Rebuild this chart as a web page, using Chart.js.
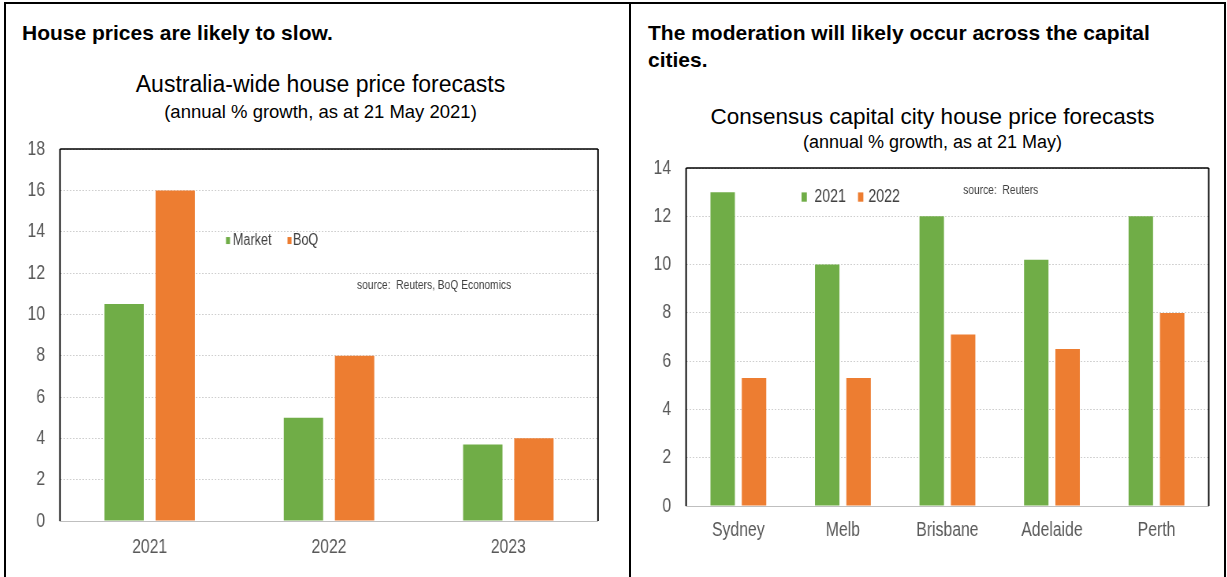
<!DOCTYPE html>
<html>
<head>
<meta charset="utf-8">
<script src="https://cdn.jsdelivr.net/npm/chart.js@4.4.0/dist/chart.umd.min.js"></script>
<style>
  body { margin: 0; width: 1227px; height: 577px; background: #fff; overflow: hidden; position: relative; font-family: "Liberation Sans", Arial, sans-serif; }
  .frame { position: absolute; left: 4px; top: 2px; width: 1218px; height: 600px; border: 2px solid #000; border-bottom: none; }
  .divider { position: absolute; left: 629px; top: 2px; width: 2px; height: 600px; background: #000; }
  .head { position: absolute; font-weight: bold; font-size: 21px; line-height: 27px; color: #000; }
  .ttl { position: absolute; text-align: center; color: #000; white-space: nowrap; }
  /* the source chart uses a condensed face: draw wide, squeeze horizontally */
  .box { position: absolute; transform-origin: 0 0; }
</style>
</head>
<body>
<div class="frame"></div>
<div class="divider"></div>
<div class="head" style="left:22px; top:19px;">House prices are likely to slow.</div>
<div class="head" style="left:648px; top:19px;">The moderation will likely occur across the capital<br>cities.</div>

<div class="ttl" style="left:0; width:641px; top:73px; font-size:23px; line-height:23px;">Australia-wide house price forecasts</div>
<div class="ttl" style="left:0; width:641px; top:103px; font-size:18.5px; line-height:18.5px;">(annual % growth, as at 21 May 2021)</div>
<div class="ttl" style="left:632px; width:601px; top:106px; font-size:22.5px; line-height:22.5px;">Consensus capital city house price forecasts</div>
<div class="ttl" style="left:632px; width:601px; top:133px; font-size:18px; line-height:18px;">(annual % growth, as at 21 May)</div>

<div class="box" id="ausBox"><canvas id="ausChart"></canvas></div>
<div class="box" id="cityBox"><canvas id="cityChart"></canvas></div>
<script>
// --- data ---
const ausYears = ['2021', '2022', '2023'];
const marketForecast = [10.5, 5.0, 3.7];
const boqForecast = [16.0, 8.0, 4.0];

const cities = ['Sydney', 'Melb', 'Brisbane', 'Adelaide', 'Perth'];
const city2021 = [13.0, 10.0, 12.0, 10.2, 12.0];
const city2022 = [5.3, 5.3, 7.1, 6.5, 8.0];

const GREEN = '#70ad47';
const ORANGE = '#ed7d31';
const FONT = '"Liberation Sans", Arial, sans-serif';
const TICK_COLOR = '#595959';
const SQUEEZE = 1.27;

// Excel-ish black frame on left/top/right + in-plot legend and source note
const plotDecor = {
    id: 'plotDecor',
    afterDraw(chart, args, opts) {
        const { ctx, chartArea: a } = chart;
        const k = SQUEEZE;
        ctx.save();
        ctx.strokeStyle = '#000';
        ctx.lineWidth = 1.5;
        ctx.beginPath();
        ctx.moveTo(a.left, a.top);
        ctx.lineTo(a.right, a.top);
        ctx.stroke();
        ctx.lineWidth = 1.5 * k;
        ctx.beginPath();
        ctx.moveTo(a.left, a.bottom);
        ctx.lineTo(a.left, a.top);
        ctx.moveTo(a.right, a.top);
        ctx.lineTo(a.right, a.bottom);
        ctx.stroke();

        ctx.textBaseline = 'middle';
        ctx.textAlign = 'left';
        (opts.keys || []).forEach(m => {
            ctx.fillStyle = m.color;
            ctx.fillRect(a.left + m.x * k, a.top + m.y - m.h / 2, m.w * k, m.h);
            ctx.fillStyle = '#404040';
            ctx.font = m.size + 'px ' + FONT;
            ctx.fillText(m.text, a.left + m.tx * k, a.top + m.y);
        });
        (opts.notes || []).forEach(n => {
            ctx.fillStyle = '#404040';
            ctx.font = n.size + 'px ' + FONT;
            ctx.fillText(n.text, a.left + n.x * k, a.top + n.y);
        });
        ctx.restore();
    }
};

function barChart(id, labels, sets, cfg) {
    const k = SQUEEZE;
    const box = document.getElementById(cfg.box);
    box.style.left = cfg.left + 'px';
    box.style.top = cfg.top + 'px';
    box.style.width = (cfg.width * k) + 'px';
    box.style.height = cfg.height + 'px';
    box.style.transform = 'scaleX(' + (1 / k) + ')';

    const ctx = document.getElementById(id).getContext('2d');
    return new Chart(ctx, {
        type: 'bar',
        data: {
            labels: labels,
            datasets: sets.map(s => ({
                label: s.label,
                data: s.data,
                backgroundColor: s.color,
                borderWidth: 0,
                categoryPercentage: cfg.catPct,
                barPercentage: cfg.barPct
            }))
        },
        options: {
            responsive: true,
            maintainAspectRatio: false,
            animation: false,
            devicePixelRatio: 1,
            layout: { padding: { left: 0, right: cfg.padRight * k, bottom: 0, top: 0 } },
            plugins: {
                legend: { display: false },
                tooltip: { enabled: false },
                plotDecor: { keys: cfg.keys, notes: cfg.notes }
            },
            scales: {
                x: {
                    grid: { display: false, drawTicks: false },
                    border: { display: true, color: '#bfbfbf', width: 1 },
                    ticks: { color: TICK_COLOR, font: { family: FONT, size: 20 }, padding: cfg.xPad },
                    afterFit: s => { s.height = cfg.xHeight; }
                },
                y: {
                    min: 0,
                    max: cfg.yMax,
                    ticks: { stepSize: 2, color: TICK_COLOR, font: { family: FONT, size: 20 }, padding: 15 * k },
                    grid: { color: '#cfcfcf', drawTicks: false },
                    border: { display: false, dash: [2, 2] },
                    afterFit: s => { s.width = cfg.yWidth * k; }
                }
            }
        },
        plugins: [plotDecor]
    });
}

// plot area sits ~31px below the canvas top (half a tick label + tick padding)
barChart('ausChart', ausYears, [
    { label: 'Market', data: marketForecast, color: GREEN },
    { label: 'BoQ', data: boqForecast, color: ORANGE }
], {
    box: 'ausBox', left: 6, top: 118, width: 620, height: 457,
    yWidth: 54, padRight: 28,
    yMax: 18, catPct: 0.57, barPct: 0.77,
    xPad: 14, xHeight: 54,
    keys: [
        { text: 'Market', color: GREEN, x: 166, tx: 173, y: 91.5, w: 4, h: 7, size: 16 },
        { text: 'BoQ', color: ORANGE, x: 227.5, tx: 233, y: 91.5, w: 4, h: 7, size: 16 }
    ],
    notes: [{ text: 'source:  Reuters, BoQ Economics', x: 297, y: 136, size: 13 }]
});

barChart('cityChart', cities, [
    { label: '2021', data: city2021, color: GREEN },
    { label: '2022', data: city2022, color: ORANGE }
], {
    box: 'cityBox', left: 632, top: 137, width: 592, height: 438,
    yWidth: 54, padRight: 16,
    yMax: 14, catPct: 0.6, barPct: 0.78,
    xPad: 12, xHeight: 69,
    keys: [
        { text: '2021', color: GREEN, x: 115.3, tx: 128, y: 29, w: 5.3, h: 9.3, size: 18 },
        { text: '2022', color: ORANGE, x: 171.7, tx: 182, y: 29, w: 5.3, h: 9.3, size: 18 }
    ],
    notes: [{ text: 'source:  Reuters', x: 276.7, y: 22, size: 13 }]
});
</script>
</body>
</html>
